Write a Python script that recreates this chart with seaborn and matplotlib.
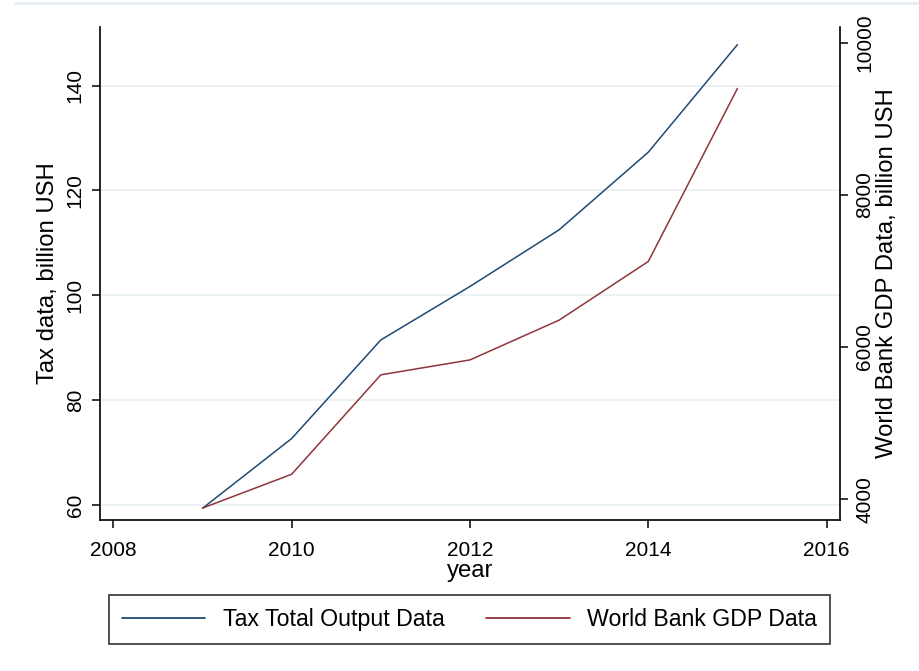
import seaborn as sns
import pandas as pd
import matplotlib.pyplot as plt
from matplotlib.lines import Line2D

years = [2009, 2010, 2011, 2012, 2013, 2014, 2015]
tax = [59.4, 72.7, 91.5, 101.7, 112.5, 127.3, 147.8]
gdp = [3882, 4327, 5634, 5830, 6353, 7124, 9399]

tax_ticks = [60, 80, 100, 120, 140]
gdp_ticks = [4000, 6000, 8000, 10000]
year_ticks = [2008, 2010, 2012, 2014, 2016]

data = pd.DataFrame({'year': years, 'tax': tax, 'gdp': gdp})

sns.set_theme(style="white")
plt.rcParams['font.family'] = ['Liberation Sans', 'DejaVu Sans']
plt.rcParams['text.color'] = 'black'
plt.rcParams['axes.labelcolor'] = 'black'
plt.rcParams['xtick.color'] = 'black'
plt.rcParams['ytick.color'] = 'black'

blue = '#1f4a73'
red = '#90353b'
fs = 15
title_fs = 17.2

fig = plt.figure(figsize=(9.2, 6.71), dpi=100)
ax = fig.add_axes([0.1087, 0.225, 0.8043, 0.735])
ax2 = ax.twinx()

sns.lineplot(x='year', y='tax', data=data, ax=ax, color=blue, linewidth=1.1, legend=False)
sns.lineplot(x='year', y='gdp', data=data, ax=ax2, color=red, linewidth=1.1, legend=False)

ax.set_xlim(2007.85, 2016.15)
ax.set_ylim(57.16, 151.2)
ax2.set_ylim(3725, 10209)

ax.set_xticks(year_ticks)
ax.set_yticks(tax_ticks)
ax2.set_yticks(gdp_ticks)

# light horizontal grid only at the left axis ticks
ax.grid(axis='y', color='#e8f0f2', linewidth=1.2)
ax.grid(axis='x', visible=False)
ax.set_axisbelow(True)

for a in (ax, ax2):
    a.spines['top'].set_visible(False)
    for s in ('left', 'right', 'bottom'):
        a.spines[s].set_color('black')
        a.spines[s].set_linewidth(1.2)
ax.spines['right'].set_visible(False)
ax2.spines['left'].set_visible(False)
ax2.spines['bottom'].set_visible(False)

ax.tick_params(axis='y', which='major', direction='out', length=6, width=1.1,
               labelsize=fs, left=True, pad=5)
ax.tick_params(axis='x', which='major', direction='out', length=6, width=1.1,
               labelsize=fs, bottom=True, pad=9)
ax2.tick_params(axis='y', which='major', direction='out', length=6, width=1.1,
                labelsize=fs, right=True, pad=5)
for lab in ax.get_yticklabels():
    lab.set_rotation(90)
    lab.set_va('center')
for lab in ax2.get_yticklabels():
    lab.set_rotation(90)
    lab.set_va('center')

ax.set_xlabel('year', fontsize=title_fs, labelpad=0)
ax.set_ylabel('Tax data, billion USH', fontsize=title_fs, labelpad=5)
ax2.set_ylabel('World Bank GDP Data, billion USH', fontsize=title_fs, rotation=90, labelpad=1)

handles = [Line2D([], [], color=blue, linewidth=1.3), Line2D([], [], color=red, linewidth=1.3)]
labels = ['Tax Total Output Data', 'World Bank GDP Data']
leg = fig.legend(handles, labels, loc='center', bbox_to_anchor=(469.5 / 920, 1 - 619.5 / 671),
                 ncol=2, fontsize=16.7, frameon=True, fancybox=False, handlelength=3.6,
                 handletextpad=0.75, columnspacing=1.8, borderpad=0.55, borderaxespad=0)
leg.get_frame().set_edgecolor('black')
leg.get_frame().set_linewidth(1.2)

fig.add_artist(Line2D([15 / 920, 1], [1 - 3 / 671, 1 - 3 / 671], transform=fig.transFigure,
                      color='#e6eef1', linewidth=2))

fig.savefig('out.png', dpi=100, facecolor='white')
